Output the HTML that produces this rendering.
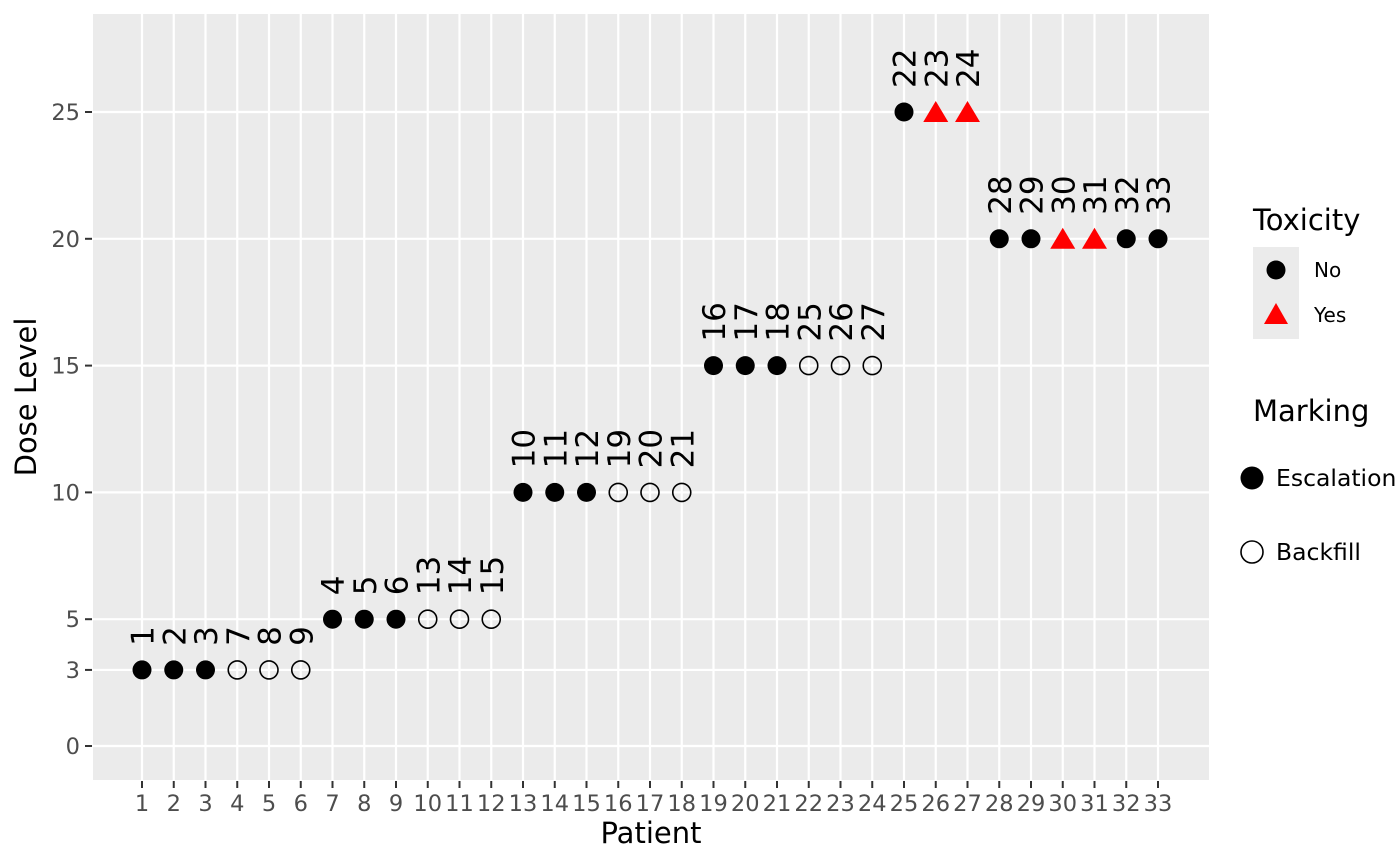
<!DOCTYPE html>
<html><head><style>body{margin:0;background:#fff}svg{display:block}</style></head><body>
<svg width="1400" height="865" xmlns="http://www.w3.org/2000/svg" font-family="DejaVu Sans, Liberation Sans, sans-serif">
<rect x="93" y="14" width="1116" height="766" fill="#ebebeb"/>
<g stroke="#fff" stroke-width="2.2" id="grid"></g>
<g id="ticks" stroke="#333" stroke-width="2"></g>
<g id="tl" font-size="22.5" fill="#4d4d4d"></g>
<g id="pts"></g>
<text x="651" y="843" font-size="29" text-anchor="middle">Patient</text>
<text transform="translate(36,397) rotate(-90)" font-size="29" text-anchor="middle">Dose Level</text>
<text x="1253" y="230" font-size="29">Toxicity</text>
<rect x="1253" y="247" width="46" height="92" fill="#ebebeb"/>
<circle cx="1276" cy="270" r="9.5" fill="#000"/>
<polygon points="1276,303 1288,324 1264,324" fill="#f00"/>
<text x="1314" y="277" font-size="20">No</text>
<text x="1314" y="322" font-size="20">Yes</text>
<text x="1253" y="421" font-size="29">Marking</text>
<circle cx="1252" cy="478" r="11.5" fill="#000"/>
<circle cx="1252" cy="552" r="11" fill="none" stroke="#000" stroke-width="1.6"/>
<text x="1276" y="486" font-size="23.5">Escalation</text>
<text x="1276" y="560" font-size="23.5">Backfill</text>
<script>
var ns="http://www.w3.org/2000/svg";
function X(p){return 142+(p-1)*31.75}
function Y(d){return 746-d*25.36}
function el(t,a,p,txt){var e=document.createElementNS(ns,t);for(var k in a)e.setAttribute(k,a[k]);if(txt!=null)e.textContent=txt;document.getElementById(p).appendChild(e);}
var yb=[0,3,5,10,15,20,25];
yb.forEach(function(d){var y=Y(d);el('line',{x1:93,x2:1209,y1:y,y2:y},'grid');el('line',{x1:85,x2:92,y1:y,y2:y},'ticks');el('text',{x:80,y:y+8,'text-anchor':'end'},'tl',d);});
for(var p=1;p<=33;p++){var x=X(p);el('line',{x1:x,x2:x,y1:14,y2:780},'grid');el('line',{x1:x,x2:x,y1:781,y2:788},'ticks');el('text',{x:x,y:811,'text-anchor':'middle'},'tl',p);}
var d=[[3,[1,2,3,7,8,9],'eeebbb'],[5,[4,5,6,13,14,15],'eeebbb'],[10,[10,11,12,19,20,21],'eeebbb'],[15,[16,17,18,25,26,27],'eeebbb'],[25,[22,23,24],'ett'],[20,[28,29,30,31,32,33],'eettee']];
var start=[1,7,13,19,25,28];
d.forEach(function(g,i){g[1].forEach(function(lab,j){var p=start[i]+j,x=X(p),y=Y(g[0]),t=g[2][j];
if(t=='e')el('circle',{cx:x,cy:y,r:9.5,fill:'#000'},'pts');
else if(t=='b')el('circle',{cx:x,cy:y,r:9,fill:'none',stroke:'#000','stroke-width':1.6},'pts');
else el('polygon',{points:(x)+','+(y-11)+' '+(x+12.5)+','+(y+10)+' '+(x-12.5)+','+(y+10),fill:'#f00'},'pts');
el('text',{transform:'translate('+(x+11.5)+','+(y-24)+') rotate(-90)','font-size':31},'pts',lab);});});
</script>
</svg>
</body></html>
